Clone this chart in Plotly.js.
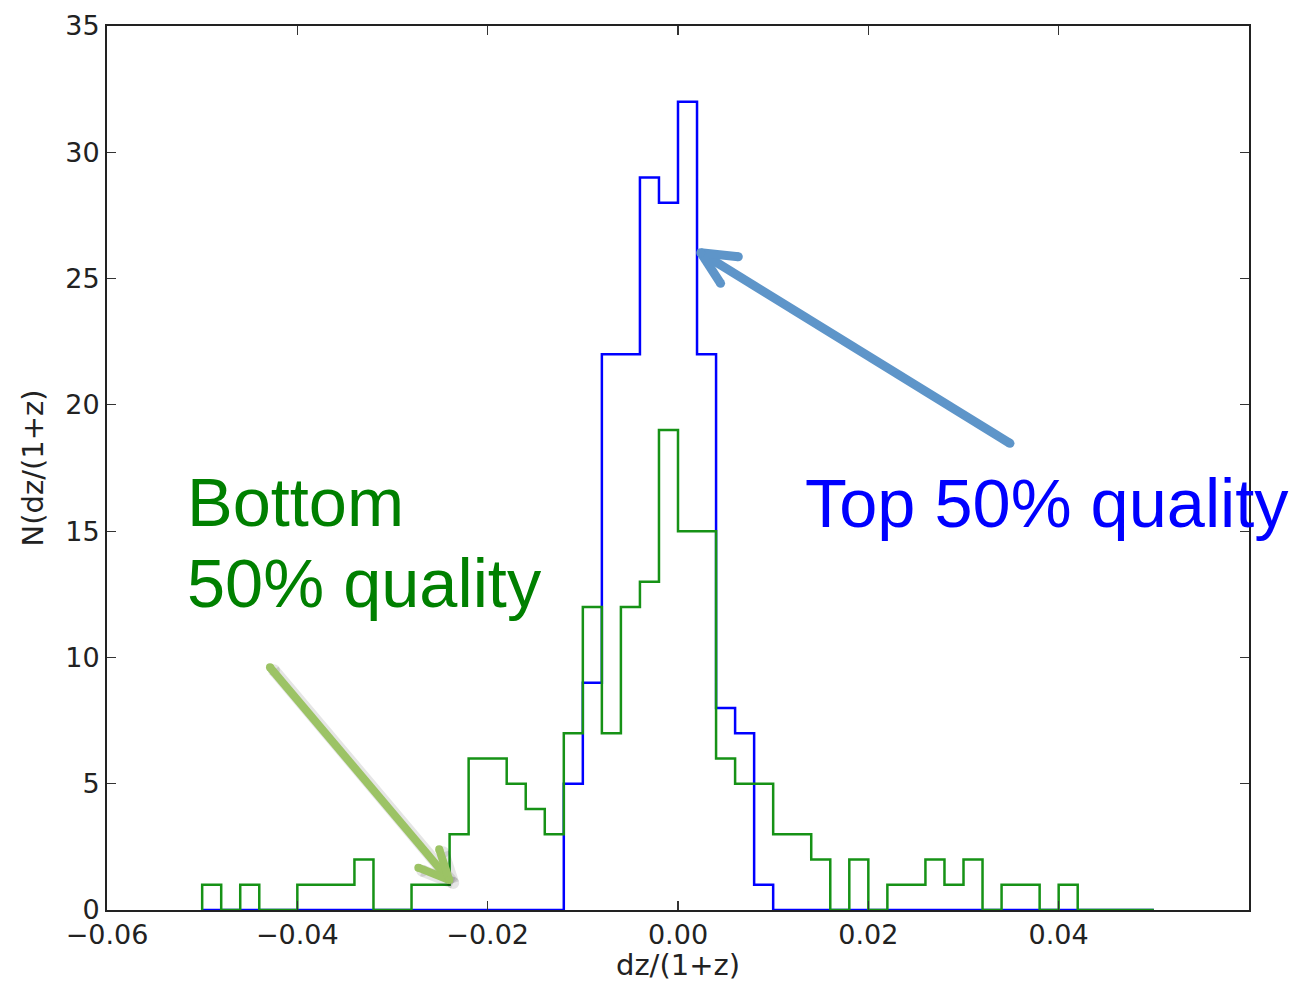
<!DOCTYPE html>
<html>
<head>
<meta charset="utf-8">
<script src="https://cdn.plot.ly/plotly-3.0.1.min.js"></script>
<style>html,body{margin:0;padding:0;background:#fff;}#chart{width:1296px;height:982px;}</style>
</head>
<body>
<div id="chart"></div>
<script>
// Histogram bins (width 0.002, from -0.05 to 0.05)
const binStart = -0.05;
const binWidth = 0.002;
// Top 50% quality counts (blue)
const topCounts = [0,0,0,0,0,0,0,0,0,0, 0,0,0,0,0,0,0,0,0,5, 9,22,22,29,28,32,22,8,7,1, 0,0,0,0,0,0,0,0,0,0, 0,0,0,0,0,0,0,0,0,0];
// Bottom 50% quality counts (green)
const bottomCounts = [1,0,1,0,0,1,1,1,2,0, 0,1,1,3,6,6,5,4,3,7, 12,7,12,13,19,15,15,6,5,5, 3,3,2,0,2,0,1,1,2,1, 2,0,1,1,0,1,0,0,0,0];
const xTickVals = [-0.06,-0.04,-0.02,0.00,0.02,0.04];
const xTickText = ["\u22120.06","\u22120.04","\u22120.02","0.00","0.02","0.04"];
const yTickVals = [0,5,10,15,20,25,30,35];

function stepXY(counts){
  const xs=[binStart], ys=[0];
  for(let i=0;i<counts.length;i++){ xs.push(binStart+i*binWidth); ys.push(counts[i]); }
  const end = binStart+counts.length*binWidth;
  xs.push(end); ys.push(counts[counts.length-1]);
  xs.push(end); ys.push(0);
  return {xs,ys};
}
const b = stepXY(topCounts), g = stepXY(bottomCounts);
const traces = [
  {x:b.xs, y:b.ys, type:'scatter', mode:'lines', line:{shape:'hv', color:'#0000ff', width:2.5}, hoverinfo:'skip', showlegend:false},
  {x:g.xs, y:g.ys, type:'scatter', mode:'lines', line:{shape:'hv', color:'#169216', width:2.5}, hoverinfo:'skip', showlegend:false}
];

// arrow helper (paper coordinates): separate segments + round dots for joins/caps
function arrowShapes(tail, tip, a1, a2, color, width){
  const seg = (p,q)=>({type:'line', xref:'paper', yref:'paper', x0:p[0], y0:p[1], x1:q[0], y1:q[1], line:{color:color, width:width}});
  const rx = width/2/1142, ry = width/2/884;
  const dot = (p)=>({type:'circle', xref:'paper', yref:'paper', x0:p[0]-rx, x1:p[0]+rx, y0:p[1]-ry, y1:p[1]+ry, fillcolor:color, line:{width:0}});
  return [seg(tail,tip), seg(a1,tip), seg(a2,tip), dot(tip), dot(a1), dot(a2), dot(tail)];
}
const shapes = [].concat(
  arrowShapes([0.1462,0.2711],[0.3032,0.0305],[0.2761,0.0445],[0.2944,0.0653],'rgba(0,0,0,0.10)',12),
  arrowShapes([0.1427,0.2745],[0.2997,0.0339],[0.2726,0.0479],[0.2909,0.0687],'#9cc365',8),
  arrowShapes([0.7907,0.5279],[0.5199,0.7436],[0.5528,0.7390],[0.5373,0.7089],'#5e95c9',9)
);

const tickFont = {family:'DejaVu Sans', size:27, color:'#222'};
const titleFont = {family:'DejaVu Sans', size:29, color:'#222'};
const layout = {
  width:1296, height:982,
  margin:{l:107, r:47, t:26, b:72},
  paper_bgcolor:'#fff', plot_bgcolor:'#fff',
  showlegend:false,
  xaxis:{range:[-0.06,0.06], tickvals:xTickVals, ticktext:xTickText, ticks:'inside', ticklen:9, tickwidth:1.2, tickcolor:'#333',
    showline:true, linecolor:'#222', linewidth:2, mirror:'ticks', showgrid:false, zeroline:false, tickfont:tickFont,
    title:{text:'dz/(1+z)', font:titleFont, standoff:5}},
  yaxis:{range:[0,35], tickvals:yTickVals, ticks:'inside', ticklen:9, tickwidth:1.2, tickcolor:'#333',
    showline:true, linecolor:'#222', linewidth:2, mirror:'ticks', showgrid:false, zeroline:false, tickfont:tickFont,
    title:{text:'N(dz/(1+z)', font:titleFont, standoff:13}},
  shapes:shapes,
  annotations:[
    {text:'Bottom', xref:'paper', yref:'paper', x:0.0683, y:0.4615, xanchor:'left', yanchor:'middle', showarrow:false, font:{family:'Liberation Sans', size:68.5, color:'#008000'}},
    {text:'50% quality', xref:'paper', yref:'paper', x:0.0683, y:0.3690, xanchor:'left', yanchor:'middle', showarrow:false, font:{family:'Liberation Sans', size:68.5, color:'#008000'}},
    {text:'Top 50% quality', xref:'paper', yref:'paper', x:0.6095, y:0.4601, xanchor:'left', yanchor:'middle', showarrow:false, font:{family:'Liberation Sans', size:68.5, color:'#0000ff'}}
  ]
};
Plotly.newPlot('chart', traces, layout, {staticPlot:true});
</script>
</body>
</html>
